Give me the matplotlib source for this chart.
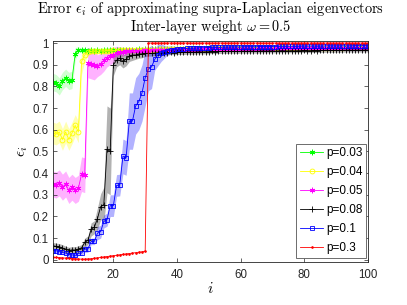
import numpy as np
import matplotlib
matplotlib.use("Agg")
import matplotlib.pyplot as plt

# eigenvector index
idx = list(range(1, 101))

labels = ["p=0.03", "p=0.04", "p=0.05", "p=0.08", "p=0.1", "p=0.3"]

# mean error per eigenvector
err_003 = [0.82, 0.815, 0.80, 0.825, 0.84, 0.825, 0.83, 0.95, 0.97, 0.968,
           0.966, 0.965, 0.967, 0.964, 0.966, 0.965, 0.967, 0.966, 0.968, 0.967,
           0.968, 0.967, 0.969, 0.968, 0.970, 0.969, 0.970, 0.971, 0.970, 0.971,
           0.971, 0.972, 0.971, 0.972, 0.973, 0.972, 0.973, 0.972, 0.973, 0.974,
           0.973, 0.974, 0.973, 0.974, 0.975, 0.974, 0.975, 0.974, 0.975, 0.975,
           0.976, 0.975, 0.976, 0.975, 0.976, 0.977, 0.976, 0.977, 0.976, 0.977,
           0.977, 0.976, 0.977, 0.978, 0.977, 0.977, 0.978, 0.977, 0.978, 0.977,
           0.978, 0.977, 0.978, 0.979, 0.978, 0.978, 0.979, 0.978, 0.979, 0.978,
           0.979, 0.978, 0.979, 0.979, 0.980, 0.979, 0.979, 0.980, 0.979, 0.980,
           0.980, 0.979, 0.980, 0.980, 0.981, 0.980, 0.980, 0.981, 0.980, 0.981]
std_003 = [0.04, 0.04, 0.04, 0.04, 0.04, 0.04, 0.04, 0.03, 0.012, 0.010,
           0.009, 0.009, 0.009, 0.009, 0.009, 0.009, 0.009, 0.009, 0.009, 0.009,
           0.008, 0.008, 0.008, 0.008, 0.008, 0.008, 0.008, 0.008, 0.008, 0.008,
           0.008, 0.008, 0.008, 0.008, 0.008, 0.008, 0.008, 0.008, 0.008, 0.008,
           0.008, 0.008, 0.008, 0.008, 0.008, 0.008, 0.008, 0.008, 0.008, 0.008,
           0.007, 0.007, 0.007, 0.007, 0.007, 0.007, 0.007, 0.007, 0.007, 0.007,
           0.007, 0.007, 0.007, 0.007, 0.007, 0.007, 0.007, 0.007, 0.007, 0.007,
           0.007, 0.007, 0.007, 0.007, 0.007, 0.007, 0.007, 0.007, 0.007, 0.007,
           0.007, 0.007, 0.007, 0.007, 0.007, 0.007, 0.007, 0.007, 0.007, 0.007,
           0.007, 0.007, 0.007, 0.007, 0.007, 0.007, 0.007, 0.007, 0.007, 0.007]

err_004 = [0.585, 0.58, 0.59, 0.555, 0.59, 0.555, 0.585, 0.62, 0.59, 0.915,
           0.945, 0.958, 0.962, 0.963, 0.962, 0.964, 0.963, 0.965, 0.964, 0.966,
           0.965, 0.966, 0.967, 0.966, 0.967, 0.968, 0.967, 0.968, 0.969, 0.968,
           0.969, 0.970, 0.969, 0.970, 0.971, 0.970, 0.971, 0.972, 0.971, 0.972,
           0.972, 0.973, 0.972, 0.973, 0.973, 0.974, 0.973, 0.974, 0.974, 0.975,
           0.974, 0.975, 0.975, 0.976, 0.975, 0.976, 0.976, 0.975, 0.976, 0.977,
           0.976, 0.977, 0.977, 0.976, 0.977, 0.978, 0.977, 0.977, 0.978, 0.977,
           0.978, 0.978, 0.977, 0.978, 0.979, 0.978, 0.978, 0.979, 0.978, 0.979,
           0.979, 0.978, 0.979, 0.979, 0.980, 0.979, 0.979, 0.980, 0.979, 0.980,
           0.980, 0.979, 0.980, 0.980, 0.980, 0.981, 0.980, 0.980, 0.981, 0.980]
std_004 = [0.05, 0.05, 0.05, 0.05, 0.05, 0.05, 0.05, 0.05, 0.05, 0.06,
           0.03, 0.015, 0.012, 0.010, 0.010, 0.010, 0.010, 0.010, 0.010, 0.010,
           0.009, 0.009, 0.009, 0.009, 0.009, 0.009, 0.009, 0.009, 0.009, 0.009,
           0.008, 0.008, 0.008, 0.008, 0.008, 0.008, 0.008, 0.008, 0.008, 0.008,
           0.008, 0.008, 0.008, 0.008, 0.008, 0.008, 0.008, 0.008, 0.008, 0.008,
           0.007, 0.007, 0.007, 0.007, 0.007, 0.007, 0.007, 0.007, 0.007, 0.007,
           0.007, 0.007, 0.007, 0.007, 0.007, 0.007, 0.007, 0.007, 0.007, 0.007,
           0.007, 0.007, 0.007, 0.007, 0.007, 0.007, 0.007, 0.007, 0.007, 0.007,
           0.007, 0.007, 0.007, 0.007, 0.007, 0.007, 0.007, 0.007, 0.007, 0.007,
           0.007, 0.007, 0.007, 0.007, 0.007, 0.007, 0.007, 0.007, 0.007, 0.007]

err_005 = [0.35, 0.345, 0.355, 0.335, 0.35, 0.32, 0.335, 0.32, 0.33, 0.395,
           0.39, 0.91, 0.905, 0.90, 0.895, 0.905, 0.92, 0.93, 0.94, 0.945,
           0.955, 0.958, 0.960, 0.962, 0.961, 0.963, 0.964, 0.963, 0.965, 0.966,
           0.965, 0.966, 0.967, 0.966, 0.967, 0.968, 0.967, 0.968, 0.969, 0.968,
           0.969, 0.970, 0.969, 0.970, 0.970, 0.971, 0.970, 0.971, 0.971, 0.972,
           0.971, 0.972, 0.972, 0.973, 0.972, 0.973, 0.973, 0.972, 0.973, 0.974,
           0.973, 0.974, 0.974, 0.973, 0.974, 0.975, 0.974, 0.974, 0.975, 0.974,
           0.975, 0.975, 0.974, 0.975, 0.976, 0.975, 0.975, 0.976, 0.975, 0.976,
           0.976, 0.975, 0.976, 0.976, 0.977, 0.976, 0.976, 0.977, 0.976, 0.977,
           0.977, 0.976, 0.977, 0.977, 0.977, 0.978, 0.977, 0.977, 0.978, 0.977]
std_005 = [0.06, 0.06, 0.06, 0.06, 0.06, 0.06, 0.06, 0.06, 0.06, 0.08,
           0.08, 0.07, 0.07, 0.07, 0.05, 0.05, 0.05, 0.04, 0.04, 0.035,
           0.03, 0.025, 0.02, 0.018, 0.015, 0.012, 0.010, 0.010, 0.010, 0.010,
           0.009, 0.009, 0.009, 0.009, 0.009, 0.009, 0.009, 0.009, 0.009, 0.009,
           0.008, 0.008, 0.008, 0.008, 0.008, 0.008, 0.008, 0.008, 0.008, 0.008,
           0.007, 0.007, 0.007, 0.007, 0.007, 0.007, 0.007, 0.007, 0.007, 0.007,
           0.007, 0.007, 0.007, 0.007, 0.007, 0.007, 0.007, 0.007, 0.007, 0.007,
           0.007, 0.007, 0.007, 0.007, 0.007, 0.007, 0.007, 0.007, 0.007, 0.007,
           0.007, 0.007, 0.007, 0.007, 0.007, 0.007, 0.007, 0.007, 0.007, 0.007,
           0.007, 0.007, 0.007, 0.007, 0.007, 0.007, 0.007, 0.007, 0.007, 0.007]

err_008 = [0.065, 0.062, 0.060, 0.055, 0.048, 0.043, 0.046, 0.045, 0.050, 0.055,
           0.080, 0.090, 0.140, 0.150, 0.190, 0.245, 0.255, 0.510, 0.500, 0.900,
           0.920, 0.930, 0.915, 0.925, 0.940, 0.945, 0.945, 0.950, 0.950, 0.952,
           0.953, 0.952, 0.954, 0.955, 0.954, 0.956, 0.955, 0.957, 0.956, 0.957,
           0.958, 0.957, 0.958, 0.959, 0.958, 0.959, 0.960, 0.959, 0.960, 0.960,
           0.961, 0.960, 0.961, 0.961, 0.962, 0.961, 0.962, 0.962, 0.961, 0.962,
           0.963, 0.962, 0.963, 0.963, 0.962, 0.963, 0.964, 0.963, 0.964, 0.964,
           0.963, 0.964, 0.965, 0.964, 0.964, 0.965, 0.964, 0.965, 0.965, 0.966,
           0.965, 0.965, 0.966, 0.965, 0.966, 0.966, 0.967, 0.966, 0.966, 0.967,
           0.966, 0.967, 0.967, 0.968, 0.967, 0.967, 0.968, 0.967, 0.968, 0.968]
std_008 = [0.015, 0.015, 0.015, 0.015, 0.015, 0.015, 0.015, 0.015, 0.015, 0.015,
           0.02, 0.02, 0.03, 0.03, 0.05, 0.06, 0.08, 0.20, 0.20, 0.05,
           0.03, 0.03, 0.03, 0.03, 0.025, 0.025, 0.02, 0.02, 0.018, 0.015,
           0.013, 0.012, 0.012, 0.011, 0.011, 0.010, 0.010, 0.010, 0.010, 0.010,
           0.010, 0.010, 0.010, 0.010, 0.010, 0.010, 0.010, 0.010, 0.010, 0.010,
           0.009, 0.009, 0.009, 0.009, 0.009, 0.009, 0.009, 0.009, 0.009, 0.009,
           0.009, 0.009, 0.009, 0.009, 0.009, 0.009, 0.009, 0.009, 0.009, 0.009,
           0.009, 0.009, 0.009, 0.009, 0.009, 0.009, 0.009, 0.009, 0.009, 0.009,
           0.009, 0.009, 0.009, 0.009, 0.009, 0.009, 0.009, 0.009, 0.009, 0.009,
           0.009, 0.009, 0.009, 0.009, 0.009, 0.009, 0.009, 0.009, 0.009, 0.009]

err_01 = [0.043, 0.042, 0.038, 0.034, 0.031, 0.024, 0.023, 0.020, 0.030, 0.031,
          0.049, 0.050, 0.085, 0.085, 0.123, 0.130, 0.177, 0.185, 0.250, 0.250,
          0.343, 0.345, 0.477, 0.470, 0.640, 0.640, 0.710, 0.730, 0.770, 0.840,
          0.880, 0.890, 0.925, 0.945, 0.955, 0.960, 0.965, 0.968, 0.970, 0.972,
          0.973, 0.974, 0.975, 0.976, 0.976, 0.977, 0.978, 0.978, 0.979, 0.979,
          0.980, 0.980, 0.980, 0.981, 0.981, 0.981, 0.982, 0.982, 0.982, 0.982,
          0.983, 0.983, 0.983, 0.983, 0.983, 0.984, 0.984, 0.984, 0.984, 0.984,
          0.984, 0.985, 0.985, 0.985, 0.985, 0.985, 0.985, 0.985, 0.986, 0.986,
          0.986, 0.986, 0.986, 0.986, 0.986, 0.986, 0.987, 0.987, 0.987, 0.987,
          0.987, 0.987, 0.987, 0.987, 0.987, 0.988, 0.988, 0.988, 0.988, 0.988]
std_01 = [0.01, 0.01, 0.01, 0.01, 0.01, 0.01, 0.01, 0.01, 0.01, 0.01,
          0.015, 0.015, 0.015, 0.015, 0.03, 0.03, 0.03, 0.03, 0.05, 0.05,
          0.05, 0.05, 0.08, 0.08, 0.13, 0.13, 0.13, 0.13, 0.13, 0.13,
          0.10, 0.10, 0.05, 0.05, 0.04, 0.03, 0.02, 0.02, 0.015, 0.012,
          0.010, 0.010, 0.009, 0.009, 0.009, 0.008, 0.008, 0.008, 0.008, 0.008,
          0.007, 0.007, 0.007, 0.007, 0.007, 0.007, 0.007, 0.007, 0.007, 0.007,
          0.007, 0.007, 0.007, 0.007, 0.007, 0.007, 0.007, 0.007, 0.007, 0.007,
          0.007, 0.007, 0.007, 0.007, 0.007, 0.007, 0.007, 0.007, 0.007, 0.007,
          0.007, 0.007, 0.007, 0.007, 0.007, 0.007, 0.007, 0.007, 0.007, 0.007,
          0.007, 0.007, 0.007, 0.007, 0.007, 0.007, 0.007, 0.007, 0.007, 0.007]

err_03 = [0.012, 0.011, 0.010, 0.009, 0.008, 0.007, 0.006, 0.005, 0.004, 0.003,
          0.003, 0.004, 0.005, 0.007, 0.009, 0.011, 0.013, 0.015, 0.017, 0.019,
          0.021, 0.023, 0.025, 0.027, 0.029, 0.031, 0.033, 0.035, 0.037, 0.040,
          1.0, 1.0, 1.0, 1.0, 1.0, 1.0, 1.0, 1.0, 1.0, 1.0,
          1.0, 1.0, 1.0, 1.0, 1.0, 1.0, 1.0, 1.0, 1.0, 1.0,
          1.0, 1.0, 1.0, 1.0, 1.0, 1.0, 1.0, 1.0, 1.0, 1.0,
          1.0, 1.0, 1.0, 1.0, 1.0, 1.0, 1.0, 1.0, 1.0, 1.0,
          1.0, 1.0, 1.0, 1.0, 1.0, 1.0, 1.0, 1.0, 1.0, 1.0,
          1.0, 1.0, 1.0, 1.0, 1.0, 1.0, 1.0, 1.0, 1.0, 1.0,
          1.0, 1.0, 1.0, 1.0, 1.0, 1.0, 1.0, 1.0, 1.0, 1.0]

means = [err_003, err_004, err_005, err_008, err_01, err_03]
stds = [std_003, std_004, std_005, std_008, std_01, None]

colors = ["#00ff00", "#ffff00", "#ff00ff", "#000000", "#0000ff", "#ff0000"]
band_alpha = [0.18, 0.3, 0.3, 0.3, 0.3, 0]
markers = [(6, 2, 0), "o", (6, 2, 0), "+", "s", "."]
msizes = [4, 3.5, 4, 4.5, 3.2, 2.5]

plt.rcParams["font.family"] = ["Liberation Sans", "DejaVu Sans"]
plt.rcParams["mathtext.fontset"] = "cm"

fig = plt.figure(figsize=(4.07, 3.05), dpi=100)
ax = fig.add_axes([0.130, 0.141, 0.774, 0.725])

x = np.array(idx)
for m, s, c, a in zip(means, stds, colors, band_alpha):
    if s is None:
        continue
    m = np.array(m)
    s = np.array(s)
    ax.fill_between(x, m - s, m + s, color=c, alpha=a, linewidth=0)

for m, c, mk, ms, lab in zip(means, colors, markers, msizes, labels):
    ax.plot(x, m, color=c, marker=mk, markersize=ms, linewidth=0.6,
            markerfacecolor="none" if mk in ("o", "s") else c,
            markeredgewidth=0.6, label=lab)

ax.set_xlim(1, 100)
ax.set_ylim(-0.01, 1.01)
ax.set_xticks([20, 40, 60, 80, 100])
ax.set_yticks(np.arange(0, 1.01, 0.1))
ax.set_yticklabels(["0", "0.1", "0.2", "0.3", "0.4", "0.5", "0.6", "0.7",
                    "0.8", "0.9", "1"])
ax.tick_params(direction="in", length=3, width=0.5, top=True, right=True,
               labelsize=8.3, colors="#262626", pad=3)
ax.tick_params(axis="x", pad=5)
for sp in ax.spines.values():
    sp.set_linewidth(0.6)
    sp.set_color("#262626")

ax.set_xlabel(r"$i$", fontsize=11, labelpad=0)
ax.set_ylabel(r"$\epsilon_i$", fontsize=11, labelpad=2)

# two-line title, one text per line
tx = 0.130 + 0.774 / 2
fig.text(tx, 1 - 12.5 / 305, "Error $\\epsilon_i$ of approximating supra-Laplacian eigenvectors",
         ha="center", va="baseline", fontfamily="cmr10", fontsize=10.3)
fig.text(tx, 1 - 30.5 / 305, "Inter-layer weight $\\omega = 0.5$",
         ha="center", va="baseline", fontfamily="cmr10", fontsize=10.3)

leg = ax.legend(loc="lower right", bbox_to_anchor=(0.994, 0.018),
                borderaxespad=0, fontsize=8.5, handlelength=1.95,
                handletextpad=0.25, labelspacing=0.6, borderpad=0.3,
                fancybox=False, framealpha=1, edgecolor="#555555")
leg.get_frame().set_linewidth(0.6)

fig.savefig("out.png", dpi=100)
